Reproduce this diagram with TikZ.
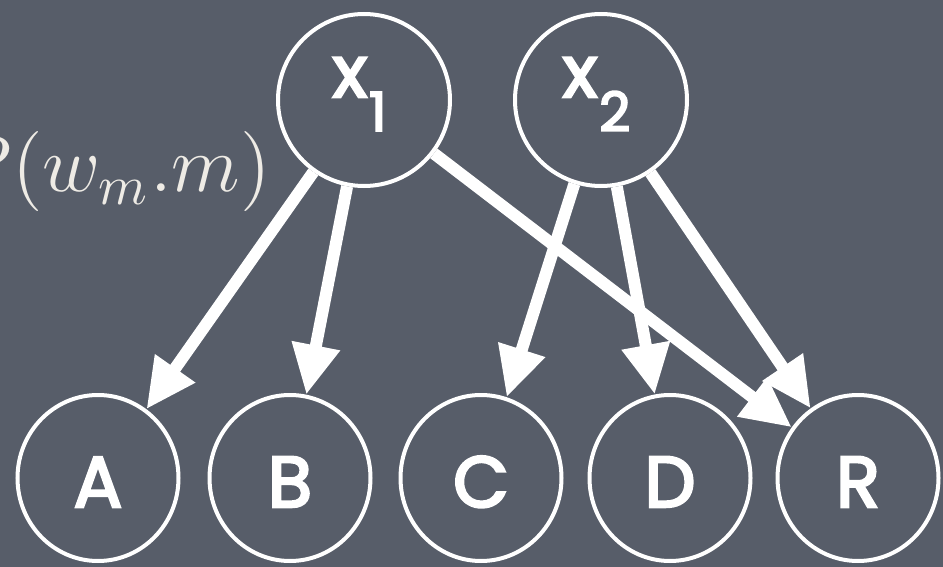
\documentclass[tikz,border=0pt]{standalone}
\usepackage{fontspec}
\usepackage{graphicx}
\newfontfamily\chalk[FakeBold=3.5]{Poppins}
\usetikzlibrary{arrows.meta,shapes.geometric}
\definecolor{board}{RGB}{87,93,105}
\definecolor{mathc}{RGB}{238,235,229}
\begin{document}
\begin{tikzpicture}[x=1pt,y=-1pt,
  vnode/.style={draw=white, line width=4pt, text=white,
    font=\chalk\fontsize{72}{72}\selectfont, inner sep=0pt},
  topnode/.style={vnode, circle, minimum size=172pt, text height=32pt, text depth=38pt},
  botnode/.style={vnode, ellipse, minimum width=161pt, minimum height=166pt, text height=58pt, text depth=0pt},
  edge/.style={draw=white, line width=12pt, -{Triangle[length=50pt,width=46pt]}}]
\useasboundingbox (0,0) rectangle (943,567);
\clip (0,0) rectangle (943,567);
\fill[board] (0,0) rectangle (943,567);
\node[anchor=base east, text=mathc, font=\fontsize{14.4}{17}\selectfont, inner sep=0pt] (formula) at (271,192) {\scalebox{5.556}{$P(w_m.m)$}};
\node[topnode] (x1) at (364,100) {x\kern2pt\raisebox{-34pt}{\fontsize{54}{54}\selectfont 1}\kern9pt};
\node[topnode] (x2) at (601,100) {x\kern2pt\raisebox{-34pt}{\fontsize{54}{54}\selectfont 2}\kern9pt};
\node[botnode] (A) at (98,478) {A};
\node[botnode] (B) at (290,478) {B};
\node[botnode] (C) at (481,478) {C};
\node[botnode] (D) at (670,478) {D};
\node[botnode] (R) at (858,478) {R};
\draw[edge] (x1) -- (A);
\draw[edge] (x1) -- (B);
\draw[edge] (x1) -- (R);
\draw[edge] (x2) -- (C);
\draw[edge] (x2) -- (D);
\draw[edge] (x2) -- (R);
\end{tikzpicture}
\end{document}
